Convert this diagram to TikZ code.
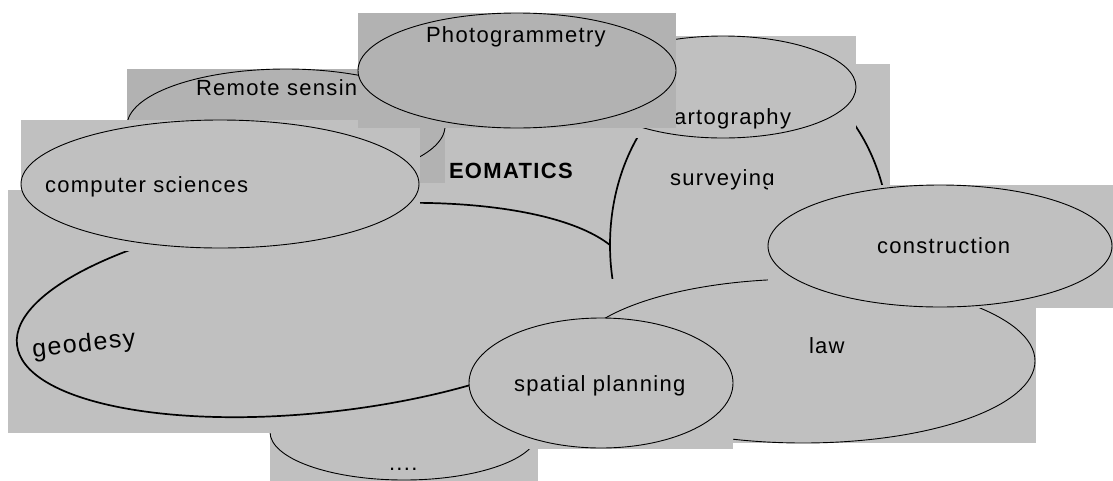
\documentclass[tikz,border=0pt]{standalone}
\usepackage{fontspec}
\setmainfont{Liberation Sans}[LetterSpace=6]
\usetikzlibrary{shapes.geometric}
\definecolor{lightbg}{HTML}{C0C0C0}
\definecolor{darkbg}{HTML}{B2B2B2}
\begin{document}
\begin{tikzpicture}[x=1pt,y=-1pt,
  lbl/.style={inner sep=0pt, outer sep=0pt, anchor=base west, font=\fontsize{22}{26}\selectfont, text=black},
  oval/.style={ellipse, draw=black, line width=0.9pt, inner sep=0pt, outer sep=0pt},
  boldoval/.style={oval, line width=1.7pt},
  lightrect/.style={fill=lightbg},
  darkrect/.style={fill=darkbg}]
\useasboundingbox (0,0) rectangle (1113,480);

% "...."
\fill[lightrect] (270,384) rectangle (538,482);
\node[oval, minimum width=268pt, minimum height=96pt] (dots) at (404,432) {};
\node[lbl] (dotst) at (389,470) {....};

% central area
\fill[lightrect] (420,128) rectangle (612,195);
\node[lbl, font=\fontsize{22}{26}\selectfont\bfseries] (geom) at (449,178) {EOMATICS};

% Remote sensing
\fill[darkrect] (127,69) rectangle (445,183);
\node[oval, minimum width=318pt, minimum height=114pt] (rs) at (286,126) {};
\node[lbl] (rst) at (196,95) {Remote sensin};

% geodesy
\fill[lightrect] (8,190) rectangle (640,433);
\node[boldoval, rotate=6.5, minimum width=616pt, minimum height=204pt] (geo) at (323,310) {};
\node[lbl, rotate=6, font=\fontsize{25}{30}\selectfont] (geot) at (33,357) {geodesy};

% computer sciences
\fill[lightrect] (21,120) rectangle (420,251);
\node[oval, minimum width=398pt, minimum height=128pt] (cs) at (220,184) {};
\node[lbl] (cst) at (45,192) {computer sciences};

% surveying
\fill[lightrect] (610,64) rectangle (890,426);
\node[boldoval, minimum width=280pt, minimum height=362pt] (sur) at (750,245) {};
\node[lbl] (surt) at (670,185) {surveying};

% cartography
\fill[lightrect] (590,36) rectangle (856,138);
\node[oval, minimum width=266pt, minimum height=102pt] (cart) at (723,87) {};
\node[lbl] (cartt) at (674,124) {artography};

% photogrammetry
\fill[darkrect] (358,13) rectangle (676,128);
\node[oval, minimum width=318pt, minimum height=115pt] (pg) at (517,70.5) {};
\node[lbl] (pgt) at (426,42) {Photogrammetry};

% law
\fill[lightrect] (571,279) rectangle (1036,443);
\node[oval, minimum width=464pt, minimum height=164pt] (law) at (803,361) {};
\node[lbl] (lawt) at (809,353) {law};

% construction
\fill[lightrect] (768,185) rectangle (1113,308);
\node[oval, minimum width=344pt, minimum height=122pt] (con) at (940,246) {};
\node[lbl] (cont) at (877,253) {construction};

% spatial planning
\fill[lightrect] (469,318) rectangle (733,449);
\node[oval, minimum width=264pt, minimum height=130pt] (sp) at (601,383) {};
\node[lbl] (spt) at (514,391) {spatial planning};
\end{tikzpicture}
\end{document}
